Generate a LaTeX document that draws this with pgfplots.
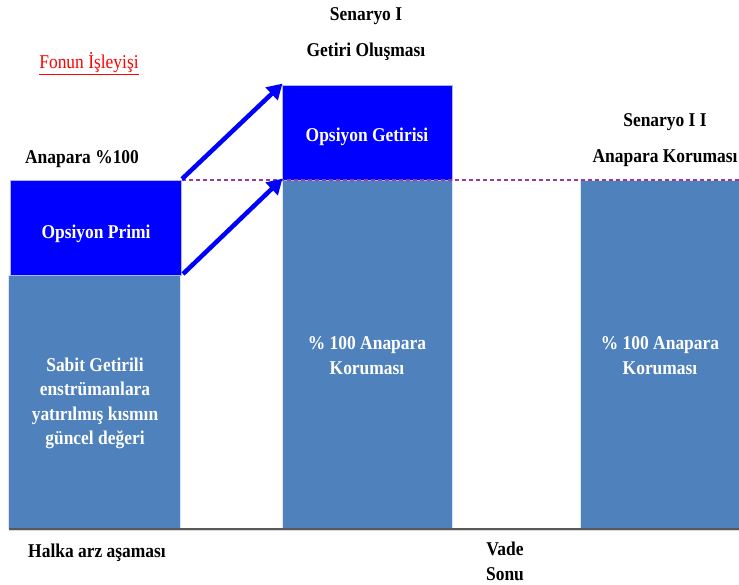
\documentclass[border=0pt]{standalone}
\usepackage{pgfplots}
\pgfplotsset{compat=1.18}
\usepackage{fontspec}
\setmainfont{Liberation Serif}
\usetikzlibrary{arrows.meta}
\definecolor{steel}{HTML}{4F81BD}
\definecolor{dblue}{HTML}{0000FF}
\definecolor{dpurple}{HTML}{9A3A9A}
\newcommand{\T}[1]{\scalebox{1}[1.12]{#1}}
\begin{document}
\begin{tikzpicture}
\begin{axis}[width=739bp, height=585bp, scale only axis, hide axis, clip=false,
  xmin=0, xmax=739, ymin=0, ymax=585]
% bars
\addplot[fill=steel, draw=white!80!steel, line width=0.8pt] coordinates {(8,57) (180,57) (180,310) (8,310)} -- cycle;
\addplot[fill=dblue, draw=white!70!dblue, line width=0.8pt] coordinates {(10.5,310) (181.5,310) (181.5,405) (10.5,405)} -- cycle;
\addplot[fill=steel, draw=white!80!steel, line width=0.8pt] coordinates {(282,57) (452.5,57) (452.5,405) (282,405)} -- cycle;
\addplot[fill=dblue, draw=white!70!dblue, line width=0.8pt] coordinates {(282,405) (452.5,405) (452.5,500) (282,500)} -- cycle;
\addplot[fill=steel, draw=white!80!steel, line width=0.8pt] coordinates {(580,57) (739,57) (739,405) (580,405)} -- cycle;
% baseline
\addplot[gray!30, line width=1.5pt] coordinates {(9,54.5) (739,54.5)};
\addplot[black!65, line width=1.3pt] coordinates {(9,56) (739,56)};
% dashed line
\addplot[dpurple, line width=1.3pt, dash pattern=on 4bp off 3bp] coordinates {(182,405) (739,405)};
% arrows
\addplot[dblue, line width=4.5bp, -{Triangle[length=15bp,width=17bp]}, shorten >=-2bp] coordinates {(182,406) (281,500)};
\addplot[dblue, line width=4.5bp, -{Triangle[length=15bp,width=17bp]}, shorten >=-2bp] coordinates {(183,311) (281,405)};
% texts
\fontsize{17.5}{22}\selectfont
\node[text=red] at (axis cs:89,521) {\T{\underline{Fonun İşleyişi}}};
\node[font=\bfseries] at (axis cs:82,426) {\T{Anapara \%100}};
\node[font=\bfseries, text=white] at (axis cs:96,351) {\T{Opsiyon Primi}};
\node[font=\bfseries, text=white] at (axis cs:95,182) {\T{\begin{tabular}{@{}c@{}}Sabit Getirili\\enstrümanlara\\yatırılmış kısmın\\güncel değeri\end{tabular}}};
\node[font=\bfseries] at (axis cs:366,569) {\T{Senaryo I}};
\node[font=\bfseries] at (axis cs:366,533) {\T{Getiri Oluşması}};
\node[font=\bfseries, text=white] at (axis cs:367,448) {\T{Opsiyon Getirisi}};
\node[font=\bfseries, text=white] at (axis cs:367,228) {\T{\begin{tabular}{@{}c@{}}\% 100 Anapara\\Koruması\end{tabular}}};
\node[font=\bfseries] at (axis cs:665,463) {\T{Senaryo I I}};
\node[font=\bfseries] at (axis cs:665,427) {\T{Anapara Koruması}};
\node[font=\bfseries, text=white] at (axis cs:660,228) {\T{\begin{tabular}{@{}c@{}}\% 100 Anapara\\Koruması\end{tabular}}};
\node[font=\bfseries] at (axis cs:97,32) {\T{Halka arz aşaması}};
\node[font=\bfseries] at (axis cs:505,22) {\T{\begin{tabular}{@{}c@{}}Vade\\Sonu\end{tabular}}};
\end{axis}
\pgfresetboundingbox
\useasboundingbox (current axis.south west) rectangle (current axis.north east);
\end{tikzpicture}
\end{document}
